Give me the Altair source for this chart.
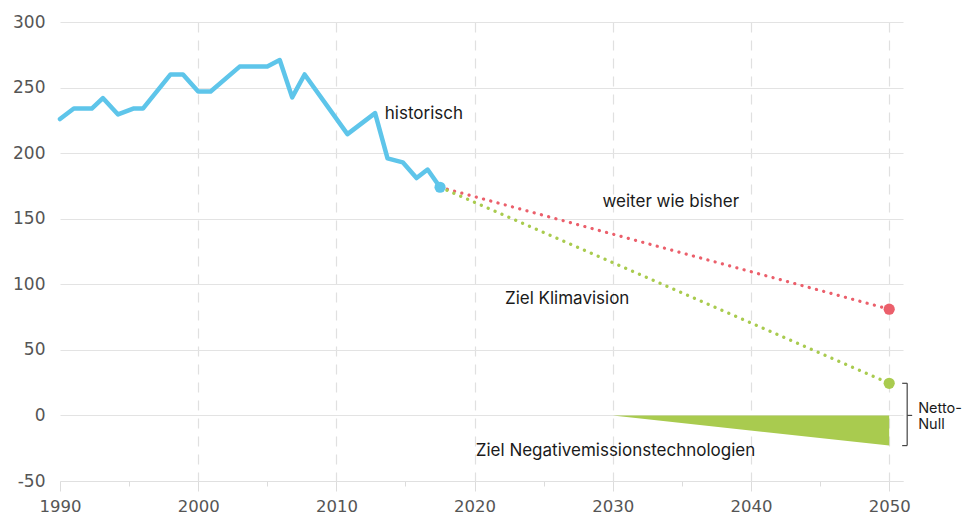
import altair as alt
import pandas as pd

# ---- data ----
hist_years = [1990.0, 1991.0, 1992.3, 1993.1, 1994.2, 1995.3, 1996.0, 1998.0, 1998.9,
              2000.0, 2000.9, 2003.0, 2005.0, 2005.9, 2006.8, 2007.7, 2010.8, 2012.8,
              2013.7, 2014.8, 2015.8, 2016.6, 2017.5]
hist_values = [226, 234, 234, 242, 229.5, 234, 234, 260, 260,
               247, 247, 266, 266, 271, 242.5, 260, 214.5, 230.5,
               196, 193, 181, 187.5, 174]

proj_years = [2017.5, 2050]
bau_values = [174, 81]          # weiter wie bisher
klima_values = [174, 24.5]      # Ziel Klimavision

neg_years = [2030, 2050]
neg_values = [0, -23]           # Ziel Negativemissionstechnologien

label_texts = ["historisch", "weiter wie bisher", "Ziel Klimavision",
               "Ziel Negativemissionstechnologien"]
label_years = [2013.5, 2034.2, 2026.7, 2030.2]
label_values = [229.5, 162.5, 89, -27.5]
label_align = ["left", "center", "center", "center"]

netto_lines = ["Netto-", "Null"]

x_ticks = list(range(1990, 2051, 5))
y_ticks = list(range(-50, 301, 50))

BLUE = "#5EC5EA"
RED = "#EB5F6B"
GREEN = "#A9CB4F"
FONT = "Inter"

hist = pd.DataFrame({"year": hist_years, "value": hist_values})
proj = pd.DataFrame({
    "year": proj_years * 2,
    "value": bau_values + klima_values,
    "series": ["bau"] * 2 + ["klima"] * 2,
})
neg = pd.DataFrame({"year": neg_years, "value": neg_values, "zero": [0, 0]})
labels = pd.DataFrame({"year": label_years, "value": label_values,
                       "text": label_texts, "align": label_align})
ends = pd.DataFrame({"year": [hist_years[-1], proj_years[-1], proj_years[-1]],
                     "value": [hist_values[-1], bau_values[-1], klima_values[-1]],
                     "c": [BLUE, RED, GREEN]})

xscale = alt.Scale(domain=[1990, 2051], nice=False, zero=False)
yscale = alt.Scale(domain=[-50, 300], nice=False, zero=False)

x_axis = alt.Axis(
    values=x_ticks, format="d", title=None,
    labelExpr="datum.value % 10 === 0 ? datum.label : ''",
    labelFont="DejaVu Sans", labelFontSize=16.5, labelColor="#555",
    labelPadding=7, labelFlush=False, labelOverlap=False,
    tickColor="#dcdcdc", tickWidth=1,
    tickSize={"condition": {"test": "datum.value % 10 === 0", "value": 10}, "value": 5},
    domainColor="#e0e0e0", domainWidth=1,
    grid=True, gridDash=[10, 8], gridColor="#e0e0e0", gridWidth=1.2,
    gridOpacity={"condition": {"test": "datum.value % 10 !== 0 || datum.value === 1990",
                               "value": 0}, "value": 1},
)
y_axis = alt.Axis(
    values=y_ticks, title=None, ticks=False, domain=False,
    labelExpr="datum.value < 0 ? '-' + abs(datum.value) : '' + datum.value",
    labelFont="DejaVu Sans", labelFontSize=17, labelColor="#555",
    labelPadding=15,
    grid=True, gridColor="#e3e3e3", gridWidth=1.2,
)

base_x = alt.X("year:Q", scale=xscale, axis=x_axis)
base_y = alt.Y("value:Q", scale=yscale, axis=y_axis)

area = alt.Chart(neg).mark_area(color=GREEN, opacity=1).encode(
    x=base_x, y=base_y, y2="zero:Q")

hist_line = alt.Chart(hist).mark_line(
    color=BLUE, strokeWidth=4.5, strokeJoin="round", strokeCap="round"
).encode(x="year:Q", y="value:Q")

proj_lines = alt.Chart(proj).mark_line(
    strokeWidth=3.2, strokeDash=[0.1, 7.4], strokeCap="round"
).encode(
    x="year:Q", y="value:Q",
    color=alt.Color("series:N", scale=alt.Scale(domain=["klima", "bau"],
                                                range=[GREEN, RED]), legend=None),
    order=alt.Order("year:Q"),
)

dots = alt.Chart(ends).mark_circle(size=125, opacity=1).encode(
    x="year:Q", y="value:Q", color=alt.Color("c:N", scale=None))

text_left = alt.Chart(labels).transform_filter("datum.align == 'left'").mark_text(
    align="left", baseline="middle", font=FONT, fontSize=17, color="#1a1a1a"
).encode(x="year:Q", y="value:Q", text="text:N")
text_center = alt.Chart(labels).transform_filter("datum.align == 'center'").mark_text(
    align="center", baseline="middle", font=FONT, fontSize=17, color="#1a1a1a"
).encode(x="year:Q", y="value:Q", text="text:N")

# Netto-Null bracket (annotation to the right of 2050)
br = pd.DataFrame({"year": [2050], "top": [klima_values[-1]], "bottom": [neg_values[-1]],
                   "zero": [0], "t1": [netto_lines[0]], "t2": [netto_lines[1]]})
br_vert = alt.Chart(br).mark_rule(color="#444", strokeWidth=1.2, xOffset=18).encode(
    x="year:Q", y="top:Q", y2="bottom:Q")
br_top = alt.Chart(br).mark_rule(color="#444", strokeWidth=1.2,
                                 xOffset=13, x2Offset=18).encode(
    x="year:Q", x2="year:Q", y="top:Q")
br_bot = alt.Chart(br).mark_rule(color="#444", strokeWidth=1.2,
                                 xOffset=13, x2Offset=18).encode(
    x="year:Q", x2="year:Q", y="bottom:Q")
br_mid = alt.Chart(br).mark_rule(color="#444", strokeWidth=1.2,
                                 xOffset=18, x2Offset=23).encode(
    x="year:Q", x2="year:Q", y="zero:Q")
br_text1 = alt.Chart(br).mark_text(
    align="left", baseline="middle", font=FONT, fontSize=14.5, color="#1a1a1a",
    dx=29, dy=-6
).encode(x="year:Q", y="zero:Q", text="t1:N")
br_text2 = alt.Chart(br).mark_text(
    align="left", baseline="middle", font=FONT, fontSize=14.5, color="#1a1a1a",
    dx=29, dy=10
).encode(x="year:Q", y="zero:Q", text="t2:N")

chart = alt.layer(
    area, hist_line, proj_lines, dots, text_left, text_center,
    br_vert, br_top, br_bot, br_mid, br_text1, br_text2
).properties(
    width=843, height=459,
    autosize=alt.AutoSizeParams(type="none"),
    padding={"left": 52, "top": 14, "right": 61, "bottom": 34},
).configure_view(stroke=None)

chart.save("out.html", embed_options={"renderer": "svg", "actions": False})
